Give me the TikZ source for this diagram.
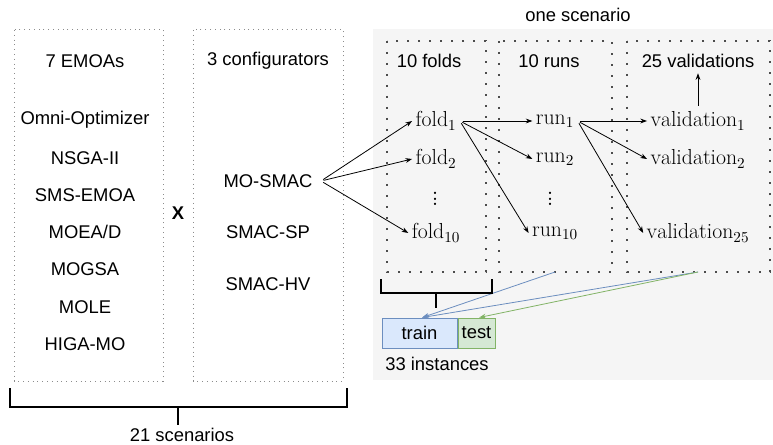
\RequirePackage{fix-cm}
\documentclass[tikz,border=0pt]{standalone}
\usepackage{fontspec}
\setsansfont{Liberation Sans}
\usetikzlibrary{arrows.meta}

\definecolor{scenariobg}{RGB}{245,245,245}
\definecolor{trainfill}{RGB}{218,232,252}
\definecolor{trainline}{RGB}{108,142,191}
\definecolor{testfill}{RGB}{213,232,212}
\definecolor{testline}{RGB}{130,179,102}

\tikzset{every picture/.style={line width=0.75pt}}
\tikzset{
	sflabel/.style={font=\sffamily\fontsize{13.8}{16}\selectfont, inner sep=0.75pt},
	mathlabel/.style={font=\fontsize{16.3}{19}\selectfont, inner sep=2.25pt},
	dotslabel/.style={font=\fontsize{21}{23}\selectfont, inner sep=0.75pt},
	outerbox/.style={draw=black!45, line width=0.75pt, dash pattern=on 0.75pt off 2.85pt},
	innerbox/.style={draw=black!70, line width=1.4pt, dash pattern=on 1.4pt off 6.85pt},
	flow/.style={-{Stealth[length=5pt,width=3.6pt]}, line width=0.6pt, shorten <=2pt},
	bracket/.style={line width=1pt},
	setbox/.style={draw, line width=0.75pt, minimum height=22.5pt, inner sep=0pt, font=\sffamily\fontsize{13.8}{16}\selectfont},
}

\begin{document}
\begin{tikzpicture}[x=0.75pt,y=0.75pt,yscale=-1,xscale=1]
	\useasboundingbox (0,0) rectangle (773,445);
	
	%Background of one scenario
	\fill[scenariobg] (373,29) rectangle (773,380);
	
	%Outer boxes
	\draw[outerbox] (14,30) rectangle (163,381);
	\draw[outerbox] (193,30) rectangle (343,381);
	%Inner boxes
	\draw[innerbox] (387,41) rectangle (486,272);
	\draw[innerbox] (499,41) rectangle (612,272);
	\draw[innerbox] (627,41) rectangle (770,272);
	
	% Text Node
	\node[sflabel] (emoas) at (85,61) {7 EMOAs};
	\node[sflabel] (omni) at (85,120) {Omni-Optimizer};
	\node[sflabel] (nsga) at (85,158) {NSGA-II};
	\node[sflabel] (sms) at (85,195) {SMS-EMOA};
	\node[sflabel] (moead) at (85,232) {MOEA/D};
	\node[sflabel] (mogsa) at (85,269) {MOGSA};
	\node[sflabel] (mole) at (85,307) {MOLE};
	\node[sflabel] (higa) at (85,344) {HIGA-MO};
	% Text Node
	\node[sflabel] (times) at (178,213) {\bfseries X};
	% Text Node
	\node[sflabel] (configs) at (268,61) {3 configurators};
	\node[sflabel,inner sep=6pt] (mosmac) at (268,181) {MO-SMAC};
	\node[sflabel] (smacsp) at (268,232) {SMAC-SP};
	\node[sflabel] (smachv) at (268,284) {SMAC-HV};
	% Text Node
	\node[sflabel] (scenario) at (578,15) {one scenario};
	\node[sflabel] (folds) at (429,61) {10 folds};
	\node[sflabel] (runs) at (549,61) {10 runs};
	\node[sflabel] (valhead) at (698,61) {25 validations};
	% Math Nodes
	\node[mathlabel] (fold1) at (436,121) {$\mathrm{fold}_1$};
	\node[mathlabel] (fold2) at (436,159) {$\mathrm{fold}_2$};
	\node[dotslabel] (folddots) at (435,195) {$\vdots$};
	\node[mathlabel] (fold10) at (436,233) {$\mathrm{fold}_{10}$};
	\node[mathlabel] (run1) at (555,121) {$\mathrm{run}_1$};
	\node[mathlabel] (run2) at (555,159) {$\mathrm{run}_2$};
	\node[dotslabel] (rundots) at (550,195) {$\vdots$};
	\node[mathlabel] (run10) at (555,233) {$\mathrm{run}_{10}$};
	\node[mathlabel] (val1) at (698,121) {$\mathrm{validation}_1$};
	\node[mathlabel] (val2) at (698,159) {$\mathrm{validation}_2$};
	\node[mathlabel] (val25) at (698,233) {$\mathrm{validation}_{25}$};
	
	%Arrows
	\draw[flow] (mosmac.east) -- (fold1.west);
	\draw[flow] (mosmac.east) -- (fold2.west);
	\draw[flow] (mosmac.east) -- (fold10.west);
	\draw[flow] (fold1.east) -- (run1.west);
	\draw[flow] (fold1.east) -- (run2.west);
	\draw[flow] (fold1.east) -- (run10.west);
	\draw[flow] (run1.east) -- (val1.west);
	\draw[flow] (run1.east) -- (val2.west);
	\draw[flow] (run1.east) -- (val25.west);
	\draw[flow, shorten >=3pt] (val1.north) -- (valhead.south);
	
	%Train / test
	\node[setbox, draw=trainline, fill=trainfill, minimum width=56.25pt] (train) at (419.5,333) {train};
	\node[setbox, draw=testline, fill=testfill, minimum width=27.75pt, anchor=west] (test) at (train.east) {test};
	\node[sflabel] (instances) at (437,364) {33 instances};
	
	\coordinate (runsfoot) at (555,272);
	\coordinate (valfoot) at (698,272);
	\draw[flow, draw=trainline, shorten <=0pt] (runsfoot) -- ([xshift=2pt]train.north);
	\draw[flow, draw=trainline, shorten <=0pt] (valfoot) -- ([xshift=2pt]train.north);
	\draw[flow, draw=testline, shorten <=0pt] (valfoot) -- ([xshift=2pt]test.north);
	
	%Brackets
	\draw[bracket] (381,279) -- (381,293) -- (492,293) -- (492,279);
	\draw[bracket] (436,293) -- (436,308);
	\draw[bracket] (10,388) -- (10,407) -- (347,407) -- (347,388);
	\node[sflabel] (total) at (182,435) {21 scenarios};
	\draw[bracket] (178,407) -- (178,425);
	
\end{tikzpicture}
\end{document}
